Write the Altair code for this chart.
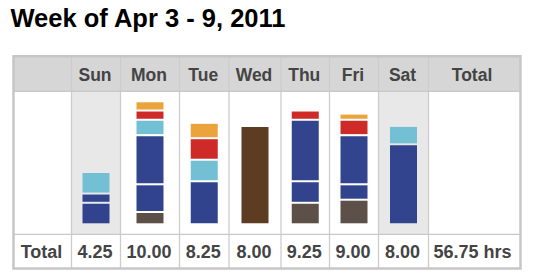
import altair as alt
import pandas as pd

# ---------------- data ----------------
title_text = "Week of Apr 3 - 9, 2011"
days = ["Sun", "Mon", "Tue", "Wed", "Thu", "Fri", "Sat"]
day_totals = ["4.25", "10.00", "8.25", "8.00", "9.25", "9.00", "8.00"]
row_label = "Total"
total_header = "Total"
week_total = "56.75 hrs"

tasks = ["Admin", "Project A", "Project B", "Support", "Review", "Email", "Training"]
task_colors = ["#5D5048", "#31438D", "#32448E", "#73BFD4", "#CE2A27", "#EBA43C", "#5C3D21"]

seg_day = ["Sun", "Sun", "Sun",
           "Mon", "Mon", "Mon", "Mon", "Mon", "Mon",
           "Tue", "Tue", "Tue", "Tue",
           "Wed",
           "Thu", "Thu", "Thu", "Thu",
           "Fri", "Fri", "Fri", "Fri", "Fri",
           "Sat", "Sat"]
seg_task = ["Project A", "Project B", "Support",
            "Admin", "Project A", "Project B", "Support", "Review", "Email",
            "Project A", "Support", "Review", "Email",
            "Training",
            "Admin", "Project A", "Project B", "Review",
            "Admin", "Project A", "Project B", "Review", "Email",
            "Project B", "Support"]
seg_hours = [1.75, 0.75, 1.75,
             1.0, 2.25, 4.0, 1.25, 0.75, 0.75,
             3.5, 1.75, 1.75, 1.25,
             8.0,
             1.75, 1.75, 5.0, 0.75,
             2.0, 1.25, 4.0, 1.25, 0.5,
             6.5, 1.5]

# ---------------- layout (pixels) ----------------
W, H = 534, 278
COL_EDGES = [13.5, 71.5, 120.5, 179.5, 229, 281, 329.5, 378.5, 428.5, 520.5]
TOP, HEAD_BOT, BODY_BOT, BOTTOM = 56.2, 91.3, 234.3, 268.5
BAR_BASE, PX_PER_HOUR = 224.3, 12.3
centers = [(COL_EDGES[i] + COL_EDGES[i + 1]) / 2 for i in range(len(COL_EDGES) - 1)]
day_center = {d: centers[i + 1] for i, d in enumerate(days)}

# stacked segments
seg = pd.DataFrame({"day": seg_day, "task": seg_task, "hours": seg_hours})
seg["end"] = seg.groupby("day")["hours"].cumsum()
seg["start"] = seg["end"] - seg["hours"]
seg["xc"] = seg["day"].map(day_center)

# decoration frames
bg = pd.DataFrame([
    {"x": COL_EDGES[0], "x2": COL_EDGES[-1], "y": TOP, "y2": HEAD_BOT, "c": "#D6D6D6"},
    {"x": COL_EDGES[1], "x2": COL_EDGES[2], "y": HEAD_BOT, "y2": BODY_BOT, "c": "#E8E8E8"},
    {"x": COL_EDGES[7], "x2": COL_EDGES[8], "y": HEAD_BOT, "y2": BODY_BOT, "c": "#E8E8E8"},
])
vlines = pd.DataFrame({"x": COL_EDGES[1:-1], "y": TOP, "y2": BOTTOM})
hlines = pd.DataFrame({"x": COL_EDGES[0], "x2": COL_EDGES[-1], "y": [HEAD_BOT, BODY_BOT]})
frame = pd.DataFrame([{"x": COL_EDGES[0], "x2": COL_EDGES[-1], "y": TOP, "y2": BOTTOM}])

head = pd.DataFrame({"label": days + [total_header], "x": centers[1:]})
head.loc[head["label"] == total_header, "x"] = 473
tot = pd.DataFrame({"label": [row_label] + day_totals + [week_total], "x": centers})
tot.loc[tot["label"] == week_total, "x"] = 473.5

FONT = "Liberation Sans"
NX = alt.X("x:Q", scale=None, axis=None)

bg_layer = alt.Chart(bg).mark_rect().encode(
    x=NX, x2="x2:Q", y=alt.Y("y:Q", scale=None, axis=None), y2="y2:Q",
    color=alt.Color("c:N", scale=None, legend=None))

vline_layer = alt.Chart(vlines).mark_rule(color="#CCCCCC", strokeWidth=1.3).encode(
    x=NX, y=alt.Y("y:Q", scale=None, axis=None), y2="y2:Q")

hline_layer = alt.Chart(hlines).mark_rule(color="#C8C8C8", strokeWidth=1.3).encode(
    x=NX, x2="x2:Q", y=alt.Y("y:Q", scale=None, axis=None))

frame_layer = alt.Chart(frame).mark_rect(fillOpacity=0, stroke="#C6C6C6", strokeWidth=2.5).encode(
    x=NX, x2="x2:Q", y=alt.Y("y:Q", scale=None, axis=None), y2="y2:Q")

bars = alt.Chart(seg).mark_bar(size=27, yOffset=1, y2Offset=-1).encode(
    x=alt.X("xc:Q", scale=None, axis=None),
    y=alt.Y("end:Q", axis=None,
            scale=alt.Scale(domain=[0, 10], range=[BAR_BASE, BAR_BASE - 10 * PX_PER_HOUR])),
    y2="start:Q",
    color=alt.Color("task:N", scale=alt.Scale(domain=tasks, range=task_colors), legend=None))

head_text = alt.Chart(head).mark_text(
    font=FONT, fontSize=17.5, fontWeight="bold", color="#444444",
    baseline="alphabetic", align="center", dx=-1).encode(
    x=NX, y=alt.value(81), text="label:N")

tot_text = alt.Chart(tot).mark_text(
    font=FONT, fontSize=18, fontWeight="bold", color="#444444",
    baseline="alphabetic", align="center", dx=-1).encode(
    x=NX, y=alt.value(257.5), text="label:N")

title_layer = alt.Chart(pd.DataFrame({"t": [title_text]})).mark_text(
    font=FONT, fontSize=25.5, fontWeight="bold", color="#000000",
    baseline="alphabetic", align="left").encode(
    x=alt.value(10.5), y=alt.value(26.5), text="t:N")

chart = alt.layer(
    bg_layer, vline_layer, hline_layer, frame_layer, bars, head_text, tot_text, title_layer
).resolve_scale(x="independent", y="independent", color="independent").properties(
    width=W, height=H, padding=0, autosize="none", background="#FFFFFF"
).configure_view(stroke=None)

chart.save("out.html", embed_options={"renderer": "svg", "actions": False})
